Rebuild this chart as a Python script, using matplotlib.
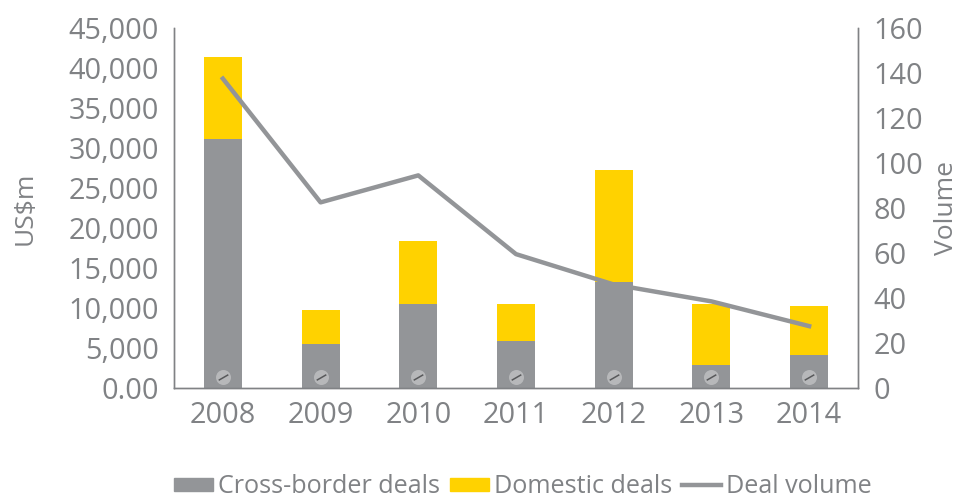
import matplotlib
matplotlib.use('Agg')
import matplotlib.pyplot as plt
from matplotlib.lines import Line2D
from matplotlib.patches import Patch

years = ['2008', '2009', '2010', '2011', '2012', '2013', '2014']
cross_border = [31100, 5500, 10500, 5900, 13300, 2850, 4100]
domestic = [10300, 4250, 7850, 4600, 13950, 7650, 6150]
deal_volume = [137.5, 82.5, 94.5, 59.5, 46, 38.5, 27.5]
grey = '#939598'
dark = '#808285'
yellow = '#ffd200'

plt.rcParams['font.family'] = ['Open Sans', 'DejaVu Sans']
fig = plt.figure(figsize=(9.6, 4.98), dpi=100)
ax = fig.add_axes([174 / 960, 1 - 388 / 498, (858 - 174) / 960, (388 - 28) / 498])
x = list(range(len(years)))
ax.bar(x, cross_border, width=0.39, color=grey)
ax.bar(x, domestic, width=0.39, bottom=cross_border, color=yellow)
ax.set_xlim(-0.5, 6.5)
ax.set_ylim(0, 45000)
ax.set_xticks(x)
ax.set_xticklabels(years)
yt = list(range(0, 45001, 5000))
ax.set_yticks(yt)
ax.set_yticklabels(['0.00'] + [f'{v:,}' for v in yt[1:]])
ax.set_ylabel('US$m', fontsize=19, color=dark, va='center')
ax.yaxis.set_label_coords(-149 / 684, 0.5)
ax.tick_params(axis='both', labelsize=20.8, labelcolor=dark, color=dark, length=0)
ax.tick_params(axis='y', pad=11)
ax.tick_params(axis='x', pad=9)

# small badge at the foot of each bar
tr = ax.get_xaxis_transform()
for i in x:
    ax.plot(i, 11 / 360, 'o', ms=10.8, color='#b7b8ba', mec='none', transform=tr)
    ax.plot(i, 11 / 360, marker=(2, 0, -60), ms=8, color='#58595b', mew=1.1, transform=tr)

ax2 = ax.twinx()
ax2.plot(x, deal_volume, color=grey, lw=3.2)
ax2.set_ylim(0, 160)
ax2.set_yticks(range(0, 161, 20))
ax2.set_ylabel('Volume', fontsize=19, color=dark, va='center')
ax2.yaxis.set_label_coords(1 + 88 / 684, 0.5)
ax2.tick_params(axis='y', labelsize=20.8, labelcolor=dark, color=dark, length=0, pad=11)

for a in (ax, ax2):
    a.spines['top'].set_visible(False)
    for s in ('left', 'right', 'bottom'):
        a.spines[s].set_color(dark)
        a.spines[s].set_linewidth(1)

handles = [Patch(color=grey), Patch(color=yellow), Line2D([0], [0], color=grey, lw=3.2)]
fig.legend(handles, ['Cross-border deals', 'Domestic deals', 'Deal volume'], loc='lower left',
           bbox_to_anchor=(151 / 960, -0.048), ncol=3, frameon=False, fontsize=18.1,
           labelcolor=dark, handlelength=1.55, handleheight=0.45, columnspacing=0.4, handletextpad=0.2)

fig.savefig('out.png', dpi=100)
